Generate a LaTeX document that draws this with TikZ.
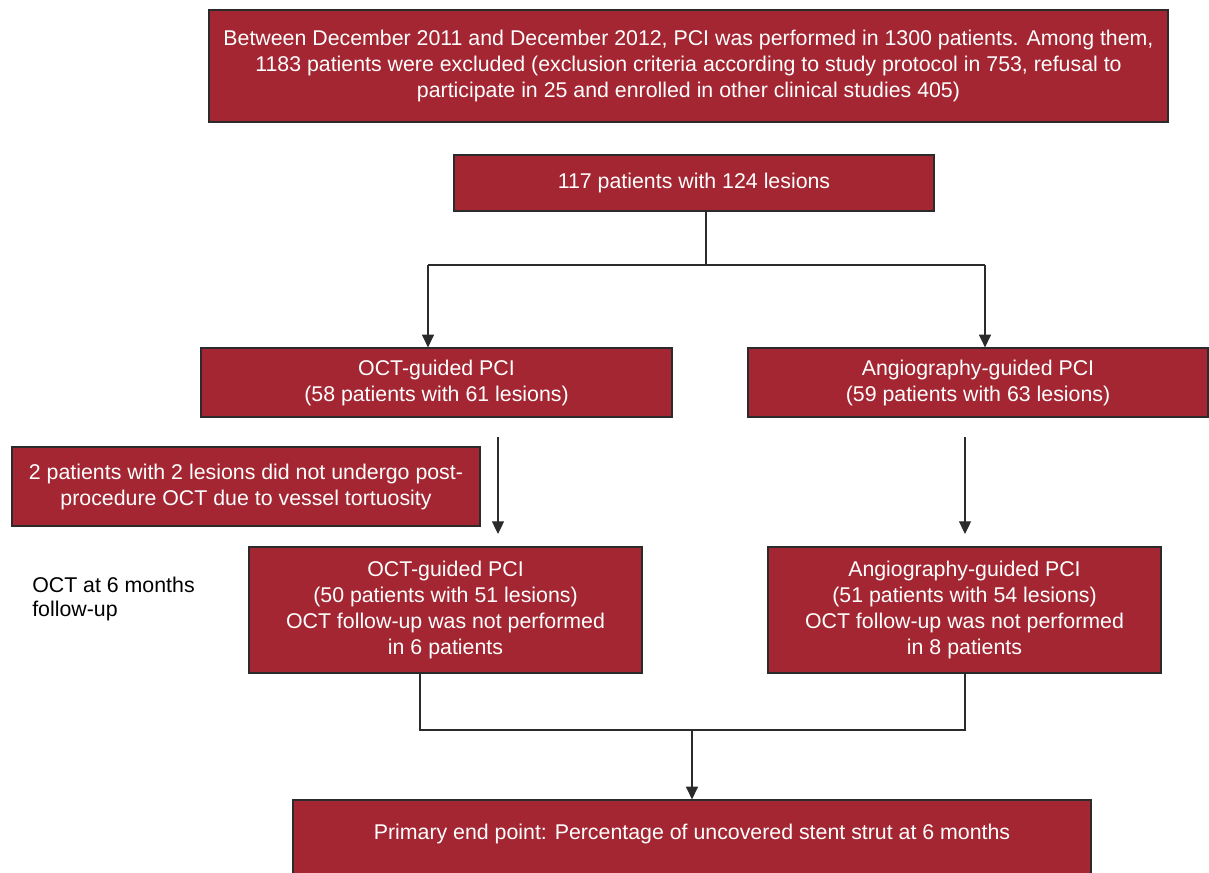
\documentclass[tikz,border=0pt]{standalone}
\usepackage{fontspec}
\setmainfont{Liberation Sans}
\usetikzlibrary{arrows.meta}
\definecolor{boxred}{HTML}{A32632}
\definecolor{edgegray}{HTML}{2B2B2B}
\tikzset{
  redbox/.style={draw=edgegray, line width=0.9pt, fill=boxred, text=white, inner sep=0pt, align=center, font=\fontsize{16}{19.5}\selectfont},
  conn/.style={draw=edgegray, line width=0.8pt},
  arr/.style={conn, -{Triangle[width=9pt,length=9.5pt]}},
}
\begin{document}
\begin{tikzpicture}[x=0.75pt,y=-0.75pt]
\useasboundingbox (0,0) rectangle (1209,872);
\node[redbox, minimum width=959*0.75pt, minimum height=112*0.75pt] (top) at (688.5,66)
 {Between December 2011 and December 2012, PCI was performed in 1300 patients. Among them,\\
  1183 patients were excluded (exclusion criteria according to study protocol in 753, refusal to\\
  participate in 25 and enrolled in other clinical studies 405)};
\node[redbox, minimum width=480*0.75pt, minimum height=56*0.75pt] (all) at (694,183)
 {117 patients with 124 lesions};
\node[redbox, minimum width=471*0.75pt, minimum height=69*0.75pt] (oct1) at (436.5,382.5)
 {OCT-guided PCI\\(58 patients with 61 lesions)};
\node[redbox, minimum width=460*0.75pt, minimum height=69*0.75pt] (ang1) at (978,382.5)
 {Angiography-guided PCI\\(59 patients with 63 lesions)};
\node[redbox, minimum width=468*0.75pt, minimum height=79*0.75pt] (excl) at (246,486.5)
 {2 patients with 2 lesions did not undergo post-\\procedure OCT due to vessel tortuosity};
\node[redbox, minimum width=393*0.75pt, minimum height=126*0.75pt] (oct2) at (445.5,610)
 {OCT-guided PCI\\(50 patients with 51 lesions)\\OCT follow-up was not performed\\in 6 patients};
\node[redbox, minimum width=393*0.75pt, minimum height=126*0.75pt] (ang2) at (964.5,610)
 {Angiography-guided PCI\\(51 patients with 54 lesions)\\OCT follow-up was not performed\\in 8 patients};
\node[redbox, minimum width=798*0.75pt, minimum height=80*0.75pt, text height=11.5pt, text depth=12.4pt] (end) at (692,840)
 {Primary end point: Percentage of uncovered stent strut at 6 months};
\node[anchor=north west, align=left, inner sep=0pt, font=\fontsize{16}{18}\selectfont] (lab) at (32,577)
 {OCT at 6 months\\follow-up};
% connectors
\coordinate (split) at (706,265);
\coordinate (sl) at (428,265);
\coordinate (sr) at (985,265);
\draw[conn] (all.south -| split) -- (split);
\draw[conn] (sl) -- (sr);
\draw[arr] (sl) -- (sl |- oct1.north);
\draw[arr] (sr) -- (sr |- ang1.north);
\coordinate (a1s) at (498,437);
\coordinate (a1e) at (498,534);
\coordinate (a2s) at (965,437);
\coordinate (a2e) at (965,534);
\draw[arr] (a1s) -- (a1e);
\draw[arr] (a2s) -- (a2e);
\coordinate (jl) at (420,730);
\coordinate (jr) at (965,730);
\coordinate (jm) at (692,730);
\draw[conn] (oct2.south -| jl) -- (jl) -- (jr) -- (ang2.south -| jr);
\draw[arr] (jm) -- (jm |- end.north);
\end{tikzpicture}
\end{document}
